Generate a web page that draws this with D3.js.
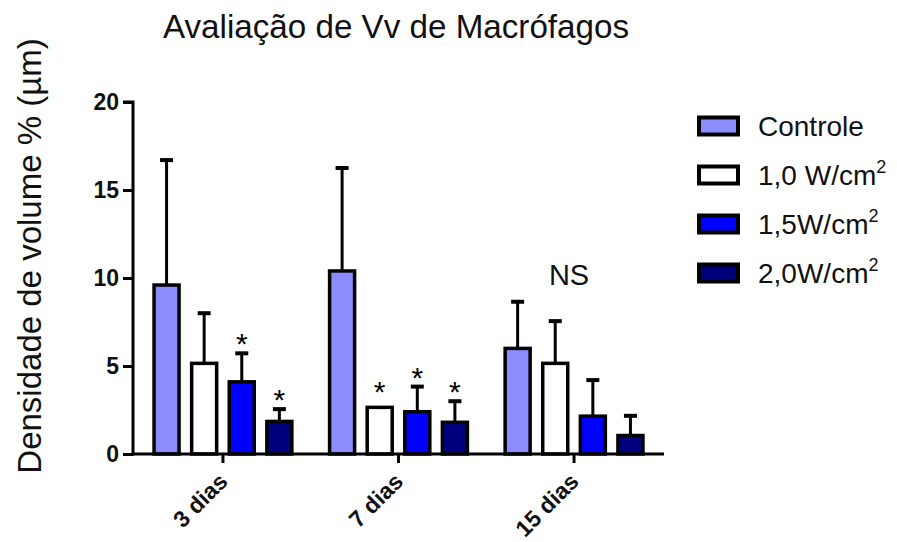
<!DOCTYPE html>
<html>
<head>
<meta charset="utf-8">
<script src="https://cdn.jsdelivr.net/npm/d3@7"></script>
<style>
  html, body { margin: 0; padding: 0; background: #fff; }
  svg { display: block; font-family: "Liberation Sans", Arial, sans-serif; }
</style>
</head>
<body>
<svg id="chart" width="897" height="542"></svg>
<script>
// ---- data ----
const groups = ["3 dias", "7 dias", "15 dias"];
const seriesNames = ["Controle", "1,0 W/cm", "1,5W/cm", "2,0W/cm"];
const seriesSup = ["", "2", "2", "2"];
const controle = [9.6, 10.4, 6.0];
const w10 = [5.15, 2.65, 5.15];
const w15 = [4.1, 2.4, 2.15];
const w20 = [1.85, 1.8, 1.05];
const controleSD = [7.1, 5.85, 2.65];
const w10SD = [2.85, 0, 2.4];
const w15SD = [1.62, 1.43, 2.05];
const w20SD = [0.7, 1.2, 1.12];
const w10Sig = [false, true, false];
const w15Sig = [true, true, false];
const w20Sig = [true, true, false];
const nsLabel = "NS";
const yTicks = [0, 5, 10, 15, 20];
const colors = ["#8C8CFF", "#FFFFFF", "#0000FF", "#00007F"];

const values = [controle, w10, w15, w20];
const sds = [controleSD, w10SD, w15SD, w20SD];
const sigs = [[false, false, false], w10Sig, w15Sig, w20Sig];

const svg = d3.select("#chart");

const x0 = 133, x1 = 664, yTop = 102, yBot = 454;

const y = d3.scaleLinear().domain([0, 20]).range([yBot, yTop]);
const xg = d3.scaleBand().domain(groups).range([x0, x1]).paddingInner(0.195).paddingOuter(0.11);
const xs = d3.scaleBand().domain(d3.range(4)).range([0, xg.bandwidth()]).paddingInner(0.242).paddingOuter(0);

// title
svg.append("text").attr("x", 163).attr("y", 38)
  .attr("font-size", 33).attr("fill", "#111")
  .attr("textLength", 466).attr("lengthAdjust", "spacingAndGlyphs")
  .text("Avaliação de Vv de Macrófagos");

// y label
svg.append("text")
  .attr("transform", "translate(41,256) rotate(-90)")
  .attr("text-anchor", "middle")
  .attr("font-size", 33).attr("fill", "#111")
  .text("Densidade de volume % (µm)");

// bars
const data = [];
groups.forEach((g, gi) => {
  values.forEach((arr, si) => {
    data.push({ g, gi, si, v: arr[gi], sd: sds[si][gi], sig: sigs[si][gi] });
  });
});

const barG = svg.append("g");
data.forEach(d => {
  const bx = xg(d.g) + xs(d.si);
  const bw = xs.bandwidth();
  const cx = bx + bw / 2;
  if (d.sd > 0) {
    barG.append("line")
      .attr("x1", cx).attr("x2", cx)
      .attr("y1", y(d.v)).attr("y2", y(d.v + d.sd))
      .attr("stroke", "#000").attr("stroke-width", 3);
    barG.append("line")
      .attr("x1", cx - 6.5).attr("x2", cx + 6.5)
      .attr("y1", y(d.v + d.sd)).attr("y2", y(d.v + d.sd))
      .attr("stroke", "#000").attr("stroke-width", 4);
  }
  barG.append("rect")
    .attr("x", bx + 1.75).attr("width", bw - 3.5)
    .attr("y", y(d.v)).attr("height", y(0) - y(d.v))
    .attr("fill", colors[d.si])
    .attr("stroke", "#000").attr("stroke-width", 3.5);
  if (d.sig) {
    const top = d.sd > 0 ? y(d.v + d.sd) : y(d.v) - 6;
    barG.append("text")
      .attr("x", cx).attr("y", top + 1)
      .attr("text-anchor", "middle")
      .attr("font-size", 30).attr("fill", "#000")
      .text("*");
  }
});

// NS label
svg.append("text")
  .attr("x", xg("15 dias") + xg.bandwidth() / 2 - 5).attr("y", 285)
  .attr("text-anchor", "middle")
  .attr("font-size", 29).attr("fill", "#111")
  .text(nsLabel);

// y axis
const yAxis = d3.axisLeft(y).tickValues(yTicks).tickSize(10).tickPadding(4).tickFormat(d3.format("d"));
const yg = svg.append("g").attr("transform", `translate(${x0},0)`).call(yAxis);
yg.select(".domain").attr("stroke", "#000").attr("stroke-width", 3)
  .attr("d", `M-10,${yTop}H0V${yBot + 1.5}`);
yg.selectAll(".tick line").attr("stroke", "#000").attr("stroke-width", 3);
yg.selectAll(".tick text").attr("font-size", 23).attr("font-weight", "bold")
  .attr("fill", "#111").attr("font-family", "Liberation Sans, Arial, sans-serif");

// x axis
const xAxis = d3.axisBottom(xg).tickSize(9).tickFormat("");
const xa = svg.append("g").attr("transform", `translate(0,${yBot})`).call(xAxis);
xa.select(".domain").attr("stroke", "#000").attr("stroke-width", 3)
  .attr("d", `M${x0 - 1.5},0H${x1}`);
xa.selectAll(".tick line").attr("stroke", "#000").attr("stroke-width", 3);

// x labels rotated
groups.forEach(g => {
  const cx = xg(g) + xg.bandwidth() / 2;
  svg.append("text")
    .attr("transform", `translate(${cx + 6},${yBot + 29}) rotate(-45)`)
    .attr("text-anchor", "end")
    .attr("font-size", 23).attr("font-weight", "bold").attr("fill", "#111")
    .text(g);
});

// legend
const lg = svg.append("g");
seriesNames.forEach((name, i) => {
  const cy = 126 + i * 49;
  lg.append("rect")
    .attr("x", 699).attr("y", cy - 8.5).attr("width", 39).attr("height", 17)
    .attr("fill", colors[i]).attr("stroke", "#000").attr("stroke-width", 4);
  const t = lg.append("text")
    .attr("x", 758).attr("y", cy + 9.5)
    .attr("font-size", 28).attr("fill", "#111");
  t.append("tspan").text(name);
  if (seriesSup[i]) {
    t.append("tspan").attr("font-size", 18).attr("dy", -12).text(seriesSup[i]);
  }
});
</script>
</body>
</html>
